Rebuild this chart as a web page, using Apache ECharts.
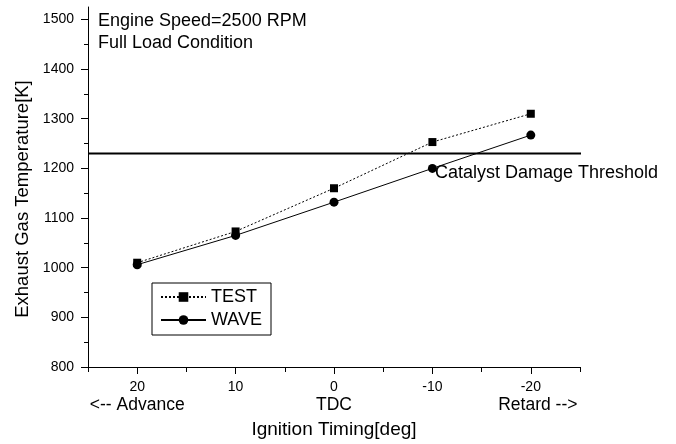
<!DOCTYPE html>
<html>
<head>
<meta charset="utf-8">
<script src="https://cdn.jsdelivr.net/npm/echarts@6/dist/echarts.min.js"></script>
<style>
  html, body { margin: 0; padding: 0; background: #fff; }
  #chart { width: 676px; height: 444px; }
</style>
</head>
<body>
<div id="chart"></div>
<script>
// ---- Data ----
const xValues = [20, 10, 0, -10, -20];               // ignition timing [deg]
const testValues = [1010, 1073, 1160, 1253, 1310];   // TEST
const waveValues = [1006, 1065, 1132, 1200, 1267];   // WAVE
const thresholdValue = 1230;                          // catalyst damage threshold [K]
const thresholdX = [25, -27.3];                       // threshold line extent (x values)

const xTickValues = [20, 10, 0, -10, -20];
const xMinorTickValues = [25, 15, 5, -5, -15, -25];
const xDirLabels = ['<-- Advance', '', 'TDC', '', 'Retard -->'];
const yTickValues = [800, 900, 1000, 1100, 1200, 1300, 1400, 1500];
const yMinorTickValues = [850, 950, 1050, 1150, 1250, 1350, 1450];

const FONT = "'Liberation Sans', Arial, Helvetica, sans-serif";

const chart = echarts.init(document.getElementById('chart'), null, { renderer: 'canvas' });

const gridCfg = { left: 88, right: 96, top: 7, bottom: 77 };

const option = {
  animation: false,
  backgroundColor: '#fff',
  textStyle: { fontFamily: FONT, color: '#000' },
  grid: gridCfg,
  legend: {
    data: ['TEST', 'WAVE'],
    orient: 'vertical',
    left: 152,
    top: 283,
    itemWidth: 45,
    itemHeight: 12,
    itemGap: 3,
    padding: [4, 9, 5, 8],
    borderColor: '#000',
    borderWidth: 1,
    borderRadius: 0,
    textStyle: { fontFamily: FONT, fontSize: 18, color: '#000', lineHeight: 20 }
  },
  xAxis: [
    {
      type: 'value',
      min: -25,
      max: 25,
      inverse: true,
      interval: 5,
      position: 'bottom',
      name: 'Ignition Timing[deg]',
      nameLocation: 'middle',
      nameGap: 53,
      nameTextStyle: { fontFamily: FONT, fontSize: 19, color: '#000' },
      axisLine: { show: true, onZero: false, lineStyle: { color: '#000', width: 1 } },
      axisTick: { show: true, length: 7, customValues: xTickValues, lineStyle: { color: '#000', width: 1 } },
      splitLine: { show: false },
      axisLabel: {
        customValues: xTickValues,
        margin: 12,
        color: '#000',
        formatter: function (v) {
          const i = xTickValues.indexOf(v);
          let s = '{t|' + String(v) + '}';
          if (i >= 0 && xDirLabels[i]) {
            s += '\n{' + (v < 0 ? 'r' : 'd') + '|' + xDirLabels[i] + '}';
          }
          return s;
        },
        rich: {
          t: { fontFamily: FONT, fontSize: 14, lineHeight: 16, color: '#000' },
          d: { fontFamily: FONT, fontSize: 17.5, lineHeight: 21, color: '#000' },
          r: { fontFamily: FONT, fontSize: 17.5, lineHeight: 21, color: '#000', padding: [0, 0, 0, 14] }
        }
      }
    },
    {
      type: 'value',
      min: -25,
      max: 25,
      inverse: true,
      interval: 5,
      position: 'bottom',
      offset: 0,
      axisLine: { show: false, onZero: false },
      axisTick: { show: true, length: 5, customValues: xMinorTickValues, lineStyle: { color: '#000', width: 1 } },
      axisLabel: { show: false },
      splitLine: { show: false }
    }
  ],
  yAxis: [
    {
      type: 'value',
      min: 800,
      max: 1525,
      interval: 100,
      position: 'left',
      name: 'Exhaust Gas Temperature[K]',
      nameLocation: 'middle',
      nameGap: 48,
      nameRotate: 90,
      nameTextStyle: { fontFamily: FONT, fontSize: 18.5, color: '#000', padding: [0, 24, 0, 0] },
      axisLine: { show: true, onZero: false, lineStyle: { color: '#000', width: 1 } },
      axisTick: { show: true, length: 7, customValues: yTickValues, lineStyle: { color: '#000', width: 1 } },
      axisLabel: {
        customValues: yTickValues,
        margin: 14,
        fontFamily: FONT,
        fontSize: 14,
        color: '#000',
        formatter: function (v) { return String(v); }
      },
      splitLine: { show: false }
    },
    {
      type: 'value',
      min: 800,
      max: 1525,
      interval: 100,
      position: 'left',
      offset: 0,
      axisLine: { show: false, onZero: false },
      axisTick: { show: true, length: 4, customValues: yMinorTickValues, lineStyle: { color: '#000', width: 1 } },
      axisLabel: { show: false },
      splitLine: { show: false }
    }
  ],
  series: [
    {
      name: 'TEST',
      type: 'line',
      xAxisIndex: 0,
      yAxisIndex: 0,
      data: xValues.map((x, i) => [x, testValues[i]]),
      symbol: 'rect',
      symbolSize: 8,
      itemStyle: { color: '#000' },
      lineStyle: { color: '#000', width: 1, type: [2, 2] },
      z: 3
    },
    {
      name: 'WAVE',
      type: 'line',
      xAxisIndex: 0,
      yAxisIndex: 0,
      data: xValues.map((x, i) => [x, waveValues[i]]),
      symbol: 'circle',
      symbolSize: 9,
      itemStyle: { color: '#000' },
      lineStyle: { color: '#000', width: 1, type: 'solid' },
      z: 3
    },
    {
      name: 'Catalyst Damage Threshold',
      type: 'line',
      xAxisIndex: 0,
      yAxisIndex: 0,
      data: thresholdX.map(x => [x, thresholdValue]),
      symbol: 'none',
      clip: false,
      silent: true,
      lineStyle: { color: '#000', width: 2 },
      z: 2
    }
  ],
  graphic: [
    { type: 'text', x: 98, y: 21.5, style: { text: 'Engine Speed=2500 RPM', font: '18px ' + FONT, fill: '#000', verticalAlign: 'middle' } },
    { type: 'text', x: 98, y: 43, style: { text: 'Full Load Condition', font: '18px ' + FONT, fill: '#000', verticalAlign: 'middle' } },
    { type: 'text', x: 435, y: 173.3, style: { text: 'Catalyst Damage Threshold', font: '18px ' + FONT, fill: '#000', verticalAlign: 'middle' } }
  ]
};

chart.setOption(option);
</script>
</body>
</html>
